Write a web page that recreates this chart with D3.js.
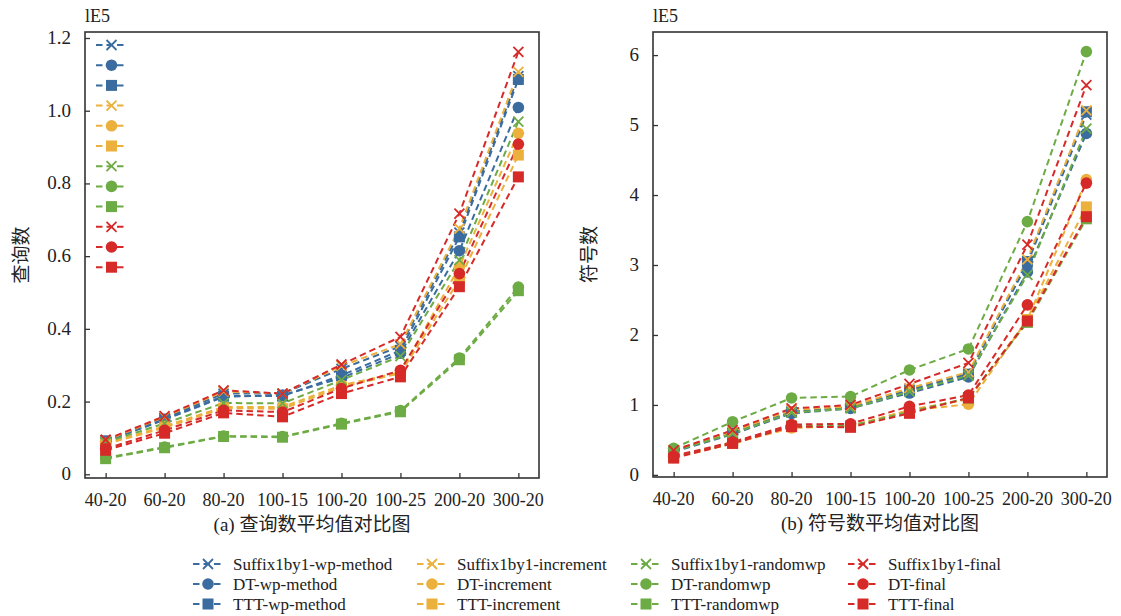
<!DOCTYPE html>
<html><head><meta charset="utf-8">
<script src="https://cdn.jsdelivr.net/npm/d3@7"></script>
</head>
<body style="margin:0"><svg id="c" width="1121" height="616"></svg>
<script>
const categories = ["40-20","60-20","80-20","100-15","100-20","100-25","200-20","300-20"];
const seriesNames = ["Suffix1by1-wp-method","DT-wp-method","TTT-wp-method",
  "Suffix1by1-increment","DT-increment","TTT-increment",
  "Suffix1by1-randomwp","DT-randomwp","TTT-randomwp",
  "Suffix1by1-final","DT-final","TTT-final"];
// query counts (x 1e5)
const queriesSuffixWp     = [0.093,0.155,0.222,0.222,0.290,0.352,0.665,1.095];
const queriesDTWp         = [0.090,0.150,0.213,0.218,0.265,0.333,0.615,1.009];
const queriesTTTWp        = [0.092,0.152,0.215,0.215,0.272,0.341,0.653,1.086];
const queriesSuffixInc    = [0.093,0.158,0.228,0.222,0.298,0.358,0.676,1.107];
const queriesDTInc        = [0.085,0.132,0.185,0.185,0.245,0.280,0.571,0.938];
const queriesTTTInc       = [0.083,0.128,0.182,0.180,0.240,0.278,0.535,0.878];
const queriesSuffixRand   = [0.088,0.140,0.196,0.195,0.259,0.325,0.589,0.970];
const queriesDTRand       = [0.045,0.075,0.105,0.104,0.140,0.175,0.320,0.515];
const queriesTTTRand      = [0.043,0.073,0.104,0.102,0.138,0.172,0.315,0.505];
const queriesSuffixFinal  = [0.095,0.160,0.231,0.222,0.302,0.378,0.717,1.162];
const queriesDTFinal      = [0.070,0.121,0.176,0.171,0.236,0.286,0.552,0.908];
const queriesTTTFinal     = [0.066,0.113,0.169,0.158,0.222,0.268,0.516,0.818];
// symbol counts (x 1e5)
const symbolsSuffixWp     = [0.34,0.60,0.90,0.96,1.22,1.45,3.02,5.15];
const symbolsDTWp         = [0.33,0.58,0.88,0.95,1.17,1.40,2.90,4.88];
const symbolsTTTWp        = [0.34,0.60,0.90,0.97,1.20,1.44,3.05,5.19];
const symbolsSuffixInc    = [0.35,0.62,0.93,0.98,1.24,1.47,3.08,5.21];
const symbolsDTInc        = [0.25,0.45,0.67,0.70,0.92,1.01,2.22,4.22];
const symbolsTTTInc       = [0.25,0.45,0.69,0.69,0.93,1.08,2.22,3.83];
const symbolsSuffixRand   = [0.34,0.59,0.89,0.95,1.19,1.42,2.86,4.95];
const symbolsDTRand       = [0.38,0.76,1.10,1.12,1.50,1.80,3.62,6.05];
const symbolsTTTRand      = [0.26,0.46,0.70,0.70,0.90,1.10,2.18,3.66];
const symbolsSuffixFinal  = [0.35,0.64,0.95,1.00,1.30,1.60,3.29,5.57];
const symbolsDTFinal      = [0.27,0.47,0.72,0.73,0.98,1.14,2.43,4.17];
const symbolsTTTFinal     = [0.24,0.45,0.69,0.68,0.88,1.10,2.20,3.69];
const leftTicks = [0,0.2,0.4,0.6,0.8,1.0,1.2];
const rightTicks = [0,1,2,3,4,5,6];

const queries = [queriesSuffixWp,queriesDTWp,queriesTTTWp,queriesSuffixInc,queriesDTInc,queriesTTTInc,
  queriesSuffixRand,queriesDTRand,queriesTTTRand,queriesSuffixFinal,queriesDTFinal,queriesTTTFinal];
const symbols = [symbolsSuffixWp,symbolsDTWp,symbolsTTTWp,symbolsSuffixInc,symbolsDTInc,symbolsTTTInc,
  symbolsSuffixRand,symbolsDTRand,symbolsTTTRand,symbolsSuffixFinal,symbolsDTFinal,symbolsTTTFinal];
const palette = ["#3a6c9f","#ecb03c","#6dab44","#d62a29"];
const shapes = ["x","circle","square"];
const colorOf = i => palette[Math.floor(i/3)];
const shapeOf = i => shapes[i%3];

const svg = d3.select("#c");
const axisColor = "#333";

// a text element with explicit font shorthand
function label(parent, size, fam){
  return parent.append("text").style("font", `${size}px ${fam}`).attr("fill","#222");
}
const SERIF = '"Liberation Serif", "Times New Roman", Tinos, serif';
const CJK = '"Liberation Serif", "Noto Sans CJK SC", serif';

function marker(g, shape, color, x, y){
  if(shape==="circle"){
    g.append("circle").attr("cx",x).attr("cy",y).attr("r",5.8).attr("fill",color);
  } else if(shape==="square"){
    g.append("rect").attr("x",x-5.5).attr("y",y-5.5).attr("width",11).attr("height",11).attr("fill",color);
  } else {
    const s=5;
    g.append("path").attr("d",`M${x-s},${y-s}L${x+s},${y+s}M${x-s},${y+s}L${x+s},${y-s}`)
      .attr("stroke",color).attr("stroke-width",1.8).attr("fill","none");
  }
}

function drawPanel(opts){
  const {x0,x1,y0,y1,domain,ticks,data,ylabel,title,tickFmt,legend} = opts;
  const g = svg.append("g");
  const x = d3.scalePoint().domain(categories).range([x0,x1]).padding(0.35);
  const y = d3.scaleLinear().domain(domain).range([y1,y0]);
  const line = d3.line().x((d,i)=>x(categories[i])).y(d=>y(d));
  data.forEach((s,i)=>{
    g.append("path").datum(s).attr("d",line).attr("fill","none")
      .attr("stroke",colorOf(i)).attr("stroke-width",2).attr("stroke-dasharray","6.5,4");
  });
  data.forEach((s,i)=>{
    s.forEach((v,j)=>marker(g,shapeOf(i),colorOf(i),x(categories[j]),y(v)));
  });
  g.append("rect").attr("x",x0).attr("y",y0).attr("width",x1-x0).attr("height",y1-y0)
    .attr("fill","none").attr("stroke",axisColor).attr("stroke-width",1.6);
  // axes: tick marks from d3 axes, labels drawn as own text elements
  const xa = g.append("g").attr("transform",`translate(0,${y1})`)
    .call(d3.axisBottom(x).tickSizeInner(-5).tickSizeOuter(0).tickFormat(""));
  xa.select(".domain").remove();
  xa.selectAll("line").attr("stroke",axisColor).attr("stroke-width",1.3);
  xa.selectAll("text").remove();
  categories.forEach(c=>{
    label(g,18,SERIF).attr("x",x(c)).attr("y",y1+28).attr("text-anchor","middle").text(c);
  });
  const ya = g.append("g").attr("transform",`translate(${x0},0)`)
    .call(d3.axisLeft(y).tickValues(ticks).tickSizeInner(-5).tickSizeOuter(0).tickFormat(""));
  ya.select(".domain").remove();
  ya.selectAll("line").attr("stroke",axisColor).attr("stroke-width",1.3);
  ya.selectAll("text").remove();
  ticks.forEach(t=>{
    label(g,19,SERIF).attr("x",x0-14).attr("y",y(t)+6).attr("text-anchor","end").text(tickFmt(t));
  });
  label(g,18,SERIF).attr("x",x0).attr("y",y0-10).text("lE5");
  label(g,19,CJK).attr("transform",`translate(${x0-57},${(y0+y1)/2}) rotate(-90)`)
    .attr("text-anchor","middle").text(ylabel);
  label(g,19,CJK).attr("x",(x0+x1)/2).attr("y",y1+53).attr("text-anchor","middle").text(title);
  if(legend){
    data.forEach((s,i)=>{
      const ly = y0+13+i*20.2;
      g.append("line").attr("x1",x0+11).attr("x2",x0+42).attr("y1",ly).attr("y2",ly)
        .attr("stroke",colorOf(i)).attr("stroke-width",2).attr("stroke-dasharray","6.5,4");
      marker(g,shapeOf(i),colorOf(i),x0+26.5,ly);
    });
  }
}

drawPanel({x0:85,x1:539,y0:32,y1:478,domain:[-0.0102,1.2165],ticks:leftTicks,data:queries,
  ylabel:"查询数",title:"(a) 查询数平均值对比图",tickFmt:d=>d===0?"0":d3.format(".1f")(d),legend:true});
drawPanel({x0:653,x1:1107,y0:32,y1:477,domain:[-0.03,6.33],ticks:rightTicks,data:symbols,
  ylabel:"符号数",title:"(b) 符号数平均值对比图",tickFmt:d3.format("d"),legend:false});

const colX = [193,417,631,848];
const rowY = [564,584,604];
const lg = svg.append("g");
seriesNames.forEach((name,i)=>{
  const c = Math.floor(i/3), r = i%3;
  const lx = colX[c], ly = rowY[r];
  lg.append("line").attr("x1",lx).attr("x2",lx+30).attr("y1",ly).attr("y2",ly)
    .attr("stroke",colorOf(i)).attr("stroke-width",2).attr("stroke-dasharray","6.5,4");
  marker(lg,shapeOf(i),colorOf(i),lx+15,ly);
  label(lg,17,SERIF).attr("x",lx+40).attr("y",ly+6).text(name);
});
</script></body></html>
